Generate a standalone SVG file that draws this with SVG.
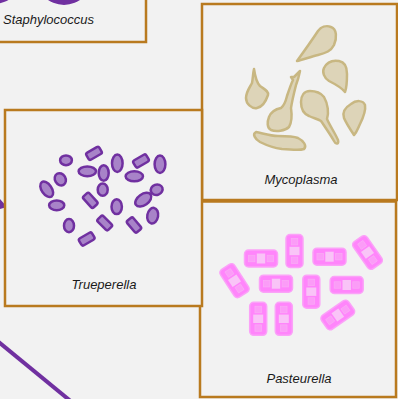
<svg xmlns="http://www.w3.org/2000/svg" xmlns:xlink="http://www.w3.org/1999/xlink" width="398" height="399" viewBox="0 0 398 399">
  <style>
    .box { fill: #f2f2f2; stroke: #b97a1f; stroke-width: 2.5; }
    .label { font-family: "Liberation Sans", Arial, sans-serif; font-size: 13px; font-style: italic; fill: #1a1a1a; }
    .cocci { fill: #7030a0; }
    .tru { fill: #a883c8; stroke: #7030a0; stroke-width: 2.5; }
    .myco { fill: #ddd4b8; stroke: #c8b782; stroke-width: 2.5; stroke-linejoin: round; }
    .conn { stroke: #7030a0; stroke-width: 4; fill: none; }
  </style>
  <defs>
    <rect id="rod" x="-7.5" y="-4" width="15" height="8" rx="2"/>
    <g id="pcell">
      <rect x="-16.5" y="-8.5" width="33" height="17" rx="4" fill="#ff85fb" stroke="#fba2f8" stroke-width="1.5"/>
      <rect x="-12.5" y="-3.2" width="6.4" height="6.4" fill="#fb9cf7" stroke="#f9aaf6" stroke-width="0.8"/>
      <rect x="6.1" y="-3.2" width="6.4" height="6.4" fill="#fb9cf7" stroke="#f9aaf6" stroke-width="0.8"/>
      <rect x="-4.2" y="-5" width="8.4" height="10" fill="#f9c4f7"/>
    </g>
  </defs>

  <rect width="398" height="399" fill="#f2f2f2"/>

  <!-- connectors -->
  <g id="connectors">
    <line class="conn" x1="-8" y1="336.5" x2="76" y2="405.5"/>
    <polygon points="0,199 7,207 0,209" fill="#7030a0"/>
  </g>

  <!-- Staphylococcus -->
  <g id="staphylococcus">
    <rect class="box" x="-60" y="-160" width="206" height="202"/>
    <circle class="cocci" cx="-6" cy="-24" r="28"/>
    <circle class="cocci" cx="64" cy="-23" r="28"/>
    <text class="label" x="3" y="24">Staphylococcus</text>
  </g>

  <!-- Mycoplasma -->
  <g id="mycoplasma">
    <rect class="box" x="202" y="4" width="195" height="196"/>
    <path class="myco" d="M297,61 C305,50 312,40 318,31 C321,27 326,25 331,27 C337,29 337,38 334,45 C331,51 326,53 318,55 C310,57 302,60 297,61 Z"/>
    <path class="myco" d="M345,92 C341,87 335,84 329,81 C324,78 322,72 324,68 C327,62 333,60 339,61 C345,62 347,68 347,74 C347,81 347,87 345,92 Z"/>
    <path class="myco" d="M354,135 C350,129 346,123 344,118 C342,112 346,107 351,104 C356,100 363,100 365,105 C366,111 363,118 360,124 C358,128 357,132 354,135 Z"/>
    <path class="myco" d="M254,69 C255,76 256,82 260,86 C264,89 269,91 268,95 C266,101 262,107 257,108 C252,109 246,104 246,98 C246,92 250,87 252,83 C253,78 253,73 254,69 Z"/>
    <path class="myco" d="M300,71 C299,76 298,80 296,85 C294,93 292,101 291,108 C292,115 292,122 289,127 C285,131 276,132 271,130 C267,128 267,122 269,117 C271,112 276,109 281,108 C285,105 286,100 287,96 C289,90 291,84 293,80 L291,77 L294,77 C296,75 298,73 300,71 Z"/>
    <path class="myco" d="M310,91 C304,91 301,96 301,102 C301,109 304,114 309,116 C313,118 318,119 321,121 C325,127 330,134 334,141 C336,145 339,144 338,140 C335,133 330,126 327,119 C329,113 328,104 324,97 C320,92 315,91 310,91 Z"/>
    <path class="myco" d="M256,132 C262,133 270,136 278,136 C286,136 293,136 298,138 C304,141 307,146 304,149 C298,151 290,149 282,149 C274,148 266,145 260,142 C255,139 252,134 256,132 Z"/>
    <text class="label" x="301" y="184" text-anchor="middle">Mycoplasma</text>
  </g>

  <!-- Pasteurella -->
  <g id="pasteurella">
    <rect class="box" x="200" y="201.5" width="196" height="195.5"/>
    <use xlink:href="#pcell" transform="translate(261,258.5)"/>
    <use xlink:href="#pcell" transform="translate(294.5,251) rotate(90)"/>
    <use xlink:href="#pcell" transform="translate(329.5,256.7)"/>
    <use xlink:href="#pcell" transform="translate(367.5,252.5) rotate(55)"/>
    <use xlink:href="#pcell" transform="translate(234.5,280.7) rotate(57)"/>
    <use xlink:href="#pcell" transform="translate(276,283.7)"/>
    <use xlink:href="#pcell" transform="translate(311.3,291.7) rotate(90)"/>
    <use xlink:href="#pcell" transform="translate(346.7,285)"/>
    <use xlink:href="#pcell" transform="translate(258.2,318.8) rotate(90)"/>
    <use xlink:href="#pcell" transform="translate(283.8,318.8) rotate(90)"/>
    <use xlink:href="#pcell" transform="translate(337.8,315) rotate(-35)"/>
    <text class="label" x="299" y="383" text-anchor="middle">Pasteurella</text>
  </g>

  <!-- Trueperella -->
  <g id="trueperella">
    <rect class="box" x="5" y="110" width="197" height="196"/>
    <ellipse class="tru" cx="66" cy="160.3" rx="5.9" ry="4.9"/>
    <use class="tru" xlink:href="#rod" transform="translate(94,153.3) rotate(-30)"/>
    <ellipse class="tru" cx="117.3" cy="163.3" rx="5.3" ry="8.7"/>
    <use class="tru" xlink:href="#rod" transform="translate(141,161) rotate(-30)"/>
    <ellipse class="tru" cx="160" cy="164.3" rx="5.4" ry="8.7"/>
    <ellipse class="tru" cx="60.3" cy="179.3" rx="5.3" ry="6.4" transform="rotate(-30 60.3 179.3)"/>
    <ellipse class="tru" cx="87.3" cy="171.3" rx="8.7" ry="4.9"/>
    <ellipse class="tru" cx="103.7" cy="173" rx="5" ry="7.8"/>
    <ellipse class="tru" cx="134.3" cy="176.3" rx="8.7" ry="5"/>
    <ellipse class="tru" cx="46.7" cy="189.3" rx="8.7" ry="5" transform="rotate(55 46.7 189.3)"/>
    <ellipse class="tru" cx="102.7" cy="189.7" rx="5" ry="6.1"/>
    <use class="tru" xlink:href="#rod" transform="translate(90.3,200.3) rotate(48)"/>
    <ellipse class="tru" cx="143.3" cy="199.7" rx="9" ry="5.5" transform="rotate(-35 143.3 199.7)"/>
    <ellipse class="tru" cx="156.7" cy="189.7" rx="6" ry="5.2" transform="rotate(-20 156.7 189.7)"/>
    <ellipse class="tru" cx="56.7" cy="205.3" rx="7.6" ry="4.9"/>
    <ellipse class="tru" cx="116.7" cy="206.7" rx="5.2" ry="7.4"/>
    <ellipse class="tru" cx="152.7" cy="215.7" rx="5.4" ry="7.9" transform="rotate(10 152.7 215.7)"/>
    <ellipse class="tru" cx="69" cy="225.7" rx="5" ry="6.6"/>
    <use class="tru" xlink:href="#rod" transform="translate(104.7,223) rotate(45)"/>
    <use class="tru" xlink:href="#rod" transform="translate(134,225) rotate(50)"/>
    <use class="tru" xlink:href="#rod" transform="translate(86.7,239) rotate(-30)"/>
    <text class="label" x="104" y="289" text-anchor="middle">Trueperella</text>
  </g>
</svg>
